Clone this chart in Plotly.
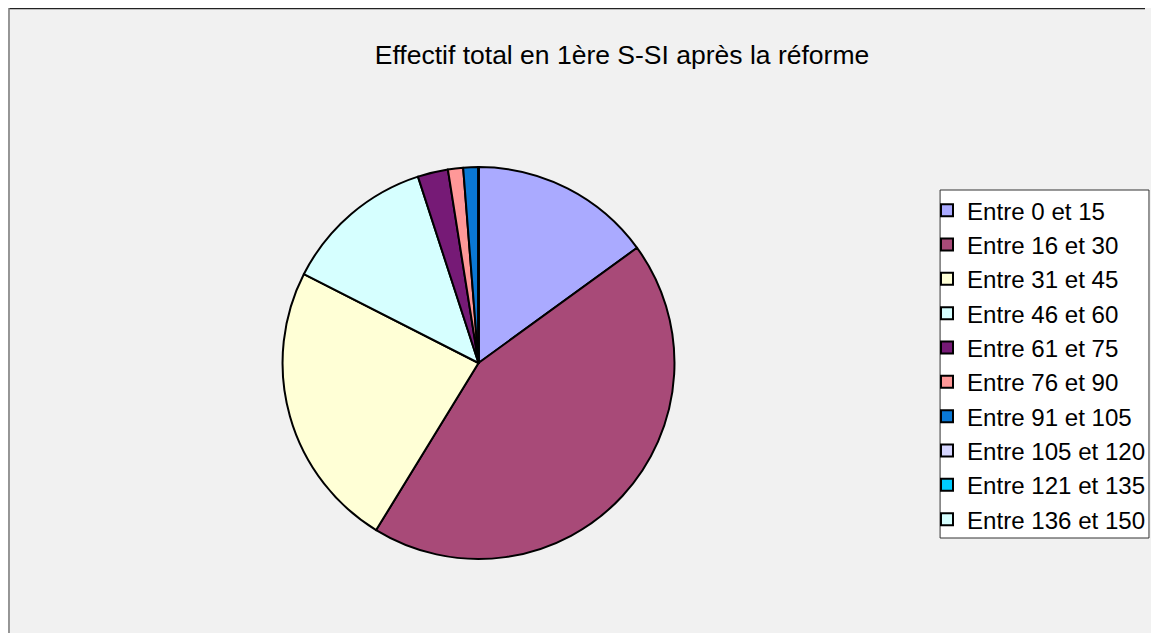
import plotly.graph_objects as go

# Tranches d'effectif et nombre de classes
labels = ['Entre 0 et 15', 'Entre 16 et 30', 'Entre 31 et 45', 'Entre 46 et 60',
          'Entre 61 et 75', 'Entre 76 et 90', 'Entre 91 et 105', 'Entre 105 et 120',
          'Entre 121 et 135', 'Entre 136 et 150']
values = [12, 35, 19, 10, 2, 1, 1, 0, 0, 0]
colors = ['#aaaaff', '#a84a78', '#ffffd6', '#d6ffff', '#761a76',
          '#ff9898', '#0a78d4', '#d6d6ff', '#00ccff', '#d6ffff']

OFF = 8  # marge du <body> de la page html
W, H = 1159 - 2 * OFF, 641 - 2 * OFF
cx, cy, r = 481, 363, 197


# positions en pixels de l'écran -> coordonnées "paper"
def px(x):
    return (x - OFF) / W


def py(y):
    return 1 - (y - OFF) / H


fig = go.Figure(go.Pie(
    labels=labels,
    values=values,
    marker=dict(colors=colors, line=dict(color='black', width=2)),
    sort=False,
    direction='clockwise',
    rotation=0,
    textinfo='none',
    hoverinfo='label+value+percent',
    domain=dict(x=[px(cx - r), px(cx + r)], y=[py(cy + r), py(cy - r)]),
))

fig.update_layout(
    width=W, height=H,
    margin=dict(l=0, r=0, t=0, b=0),
    paper_bgcolor='#f1f1f1',
    font=dict(family='Liberation Sans, Arial, sans-serif', color='black'),
    title=dict(text='Effectif total en 1ère S-SI après la réforme',
               x=px(622), xanchor='center', y=py(55), yanchor='middle',
               font=dict(size=26.5, color='black')),
    showlegend=True,
    legend=dict(x=px(932), xanchor='left', y=py(188), yanchor='top',
                bgcolor='rgba(0,0,0,0)', borderwidth=0,
                font=dict(size=24.1, color='black'),
                itemclick=False),
    shapes=[
        # cadre du graphique
        dict(type='line', xref='paper', yref='paper', x0=px(9), x1=1, y0=py(8.5), y1=py(8.5),
             line=dict(color='#222', width=1.5)),
        dict(type='line', xref='paper', yref='paper', x0=px(9), x1=px(9), y0=0, y1=py(8),
             line=dict(color='#777', width=1.5)),
        # cadre de la légende
        dict(type='rect', xref='paper', yref='paper', layer='above',
             x0=px(945), x1=px(1155), y0=py(538), y1=py(190),
             fillcolor='white', line=dict(color='#333', width=1)),
    ],
)

fig.write_html("out.html")
